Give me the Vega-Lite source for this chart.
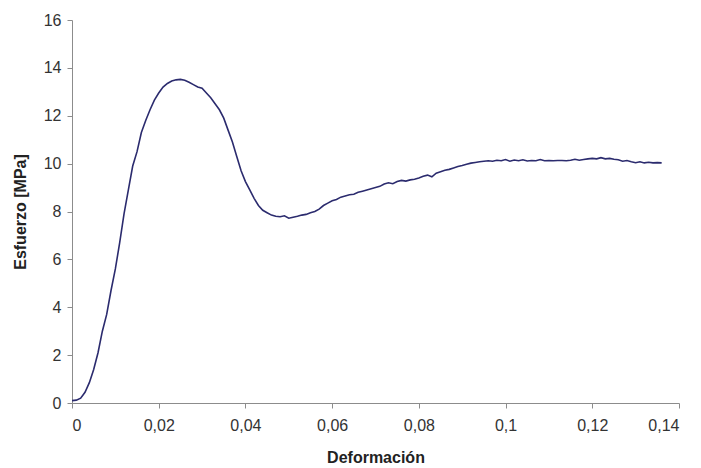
{
  "$schema": "https://vega.github.io/schema/vega-lite/v6.json",
  "autosize": "none",
  "width": 607,
  "height": 383,
  "padding": {"left": 72, "top": 20, "right": 22, "bottom": 65},
  "background": "white",
  "data": {"values": [
    {"x": 0.0, "y": 0.1}, {"x": 0.001, "y": 0.12}, {"x": 0.002, "y": 0.2}, {"x": 0.003, "y": 0.45},
    {"x": 0.004, "y": 0.85}, {"x": 0.005, "y": 1.4}, {"x": 0.006, "y": 2.1}, {"x": 0.007, "y": 3.0},
    {"x": 0.008, "y": 3.7}, {"x": 0.009, "y": 4.7}, {"x": 0.010, "y": 5.6}, {"x": 0.011, "y": 6.7},
    {"x": 0.012, "y": 7.9}, {"x": 0.013, "y": 8.9}, {"x": 0.014, "y": 9.9}, {"x": 0.015, "y": 10.5},
    {"x": 0.016, "y": 11.3}, {"x": 0.017, "y": 11.8}, {"x": 0.018, "y": 12.25}, {"x": 0.019, "y": 12.65},
    {"x": 0.020, "y": 12.95}, {"x": 0.021, "y": 13.2}, {"x": 0.022, "y": 13.35}, {"x": 0.023, "y": 13.45},
    {"x": 0.024, "y": 13.5}, {"x": 0.025, "y": 13.52}, {"x": 0.026, "y": 13.48}, {"x": 0.027, "y": 13.4},
    {"x": 0.028, "y": 13.3}, {"x": 0.029, "y": 13.2}, {"x": 0.030, "y": 13.15}, {"x": 0.031, "y": 12.95},
    {"x": 0.032, "y": 12.75}, {"x": 0.033, "y": 12.5}, {"x": 0.034, "y": 12.25}, {"x": 0.035, "y": 11.9},
    {"x": 0.036, "y": 11.4}, {"x": 0.037, "y": 10.9}, {"x": 0.038, "y": 10.3}, {"x": 0.039, "y": 9.7},
    {"x": 0.040, "y": 9.25}, {"x": 0.041, "y": 8.9}, {"x": 0.042, "y": 8.55}, {"x": 0.043, "y": 8.25},
    {"x": 0.044, "y": 8.05}, {"x": 0.045, "y": 7.95}, {"x": 0.046, "y": 7.85}, {"x": 0.047, "y": 7.8},
    {"x": 0.048, "y": 7.78}, {"x": 0.049, "y": 7.82}, {"x": 0.050, "y": 7.72}, {"x": 0.051, "y": 7.76},
    {"x": 0.052, "y": 7.8}, {"x": 0.053, "y": 7.85}, {"x": 0.054, "y": 7.88}, {"x": 0.055, "y": 7.95},
    {"x": 0.056, "y": 8.0}, {"x": 0.057, "y": 8.1}, {"x": 0.058, "y": 8.25}, {"x": 0.059, "y": 8.35},
    {"x": 0.060, "y": 8.45}, {"x": 0.061, "y": 8.5}, {"x": 0.062, "y": 8.6}, {"x": 0.063, "y": 8.65},
    {"x": 0.064, "y": 8.7}, {"x": 0.065, "y": 8.72}, {"x": 0.066, "y": 8.8}, {"x": 0.067, "y": 8.85},
    {"x": 0.068, "y": 8.9}, {"x": 0.069, "y": 8.95}, {"x": 0.070, "y": 9.0}, {"x": 0.071, "y": 9.05},
    {"x": 0.072, "y": 9.15}, {"x": 0.073, "y": 9.2}, {"x": 0.074, "y": 9.16}, {"x": 0.075, "y": 9.25},
    {"x": 0.076, "y": 9.3}, {"x": 0.077, "y": 9.27}, {"x": 0.078, "y": 9.32}, {"x": 0.079, "y": 9.35},
    {"x": 0.080, "y": 9.4}, {"x": 0.081, "y": 9.47}, {"x": 0.082, "y": 9.52}, {"x": 0.083, "y": 9.45},
    {"x": 0.084, "y": 9.6}, {"x": 0.085, "y": 9.66}, {"x": 0.086, "y": 9.72}, {"x": 0.087, "y": 9.76},
    {"x": 0.088, "y": 9.82}, {"x": 0.089, "y": 9.88}, {"x": 0.090, "y": 9.92}, {"x": 0.091, "y": 9.97},
    {"x": 0.092, "y": 10.02}, {"x": 0.093, "y": 10.05}, {"x": 0.094, "y": 10.08}, {"x": 0.095, "y": 10.1},
    {"x": 0.096, "y": 10.12}, {"x": 0.097, "y": 10.1}, {"x": 0.098, "y": 10.14}, {"x": 0.099, "y": 10.12},
    {"x": 0.100, "y": 10.17}, {"x": 0.101, "y": 10.1}, {"x": 0.102, "y": 10.15}, {"x": 0.103, "y": 10.12},
    {"x": 0.104, "y": 10.16}, {"x": 0.105, "y": 10.11}, {"x": 0.106, "y": 10.13}, {"x": 0.107, "y": 10.12},
    {"x": 0.108, "y": 10.17}, {"x": 0.109, "y": 10.12}, {"x": 0.110, "y": 10.13}, {"x": 0.111, "y": 10.12},
    {"x": 0.112, "y": 10.13}, {"x": 0.113, "y": 10.13}, {"x": 0.114, "y": 10.12}, {"x": 0.115, "y": 10.14},
    {"x": 0.116, "y": 10.18}, {"x": 0.117, "y": 10.14}, {"x": 0.118, "y": 10.17}, {"x": 0.119, "y": 10.2},
    {"x": 0.120, "y": 10.22}, {"x": 0.121, "y": 10.2}, {"x": 0.122, "y": 10.25}, {"x": 0.123, "y": 10.2},
    {"x": 0.124, "y": 10.22}, {"x": 0.125, "y": 10.18}, {"x": 0.126, "y": 10.16}, {"x": 0.127, "y": 10.1},
    {"x": 0.128, "y": 10.13}, {"x": 0.129, "y": 10.08}, {"x": 0.130, "y": 10.04}, {"x": 0.131, "y": 10.08},
    {"x": 0.132, "y": 10.03}, {"x": 0.133, "y": 10.06}, {"x": 0.134, "y": 10.03}, {"x": 0.135, "y": 10.04},
    {"x": 0.136, "y": 10.03}
  ]},
  "mark": {"type": "line", "color": "#2b2b6e", "strokeWidth": 1.6, "interpolate": "linear"},
  "encoding": {
    "x": {
      "field": "x", "type": "quantitative",
      "scale": {"domain": [0, 0.14], "nice": false, "zero": false},
      "axis": {
        "title": "Deformación",
        "values": [0, 0.02, 0.04, 0.06, 0.08, 0.1, 0.12, 0.14],
        "labelExpr": "replace(format(datum.value, '~r'), '.', ',')",
        "grid": false,
        "domainColor": "#8c8c8c", "tickColor": "#8c8c8c",
        "tickSize": 5, "labelPadding": 9,
        "labelFont": "Liberation Sans", "labelFontSize": 16, "labelColor": "#333333",
        "titleFont": "Liberation Sans", "titleFontSize": 16, "titleFontWeight": "bold", "titleColor": "#222222",
        "titleX": 303.5, "titleY": 54, "titleBaseline": "middle", "titleAlign": "center"
      }
    },
    "y": {
      "field": "y", "type": "quantitative",
      "scale": {"domain": [0, 16], "nice": false},
      "axis": {
        "title": "Esfuerzo [MPa]",
        "values": [0, 2, 4, 6, 8, 10, 12, 14, 16],
        "grid": false,
        "domainColor": "#8c8c8c", "tickColor": "#8c8c8c",
        "tickSize": 5, "labelPadding": 6,
        "labelFont": "Liberation Sans", "labelFontSize": 16, "labelColor": "#333333",
        "titleFont": "Liberation Sans", "titleFontSize": 16, "titleFontWeight": "bold", "titleColor": "#222222",
        "titleAngle": -90, "titleX": -52, "titleY": 191.5, "titleBaseline": "middle", "titleAlign": "center"
      }
    }
  },
  "config": {"view": {"stroke": null}}
}
